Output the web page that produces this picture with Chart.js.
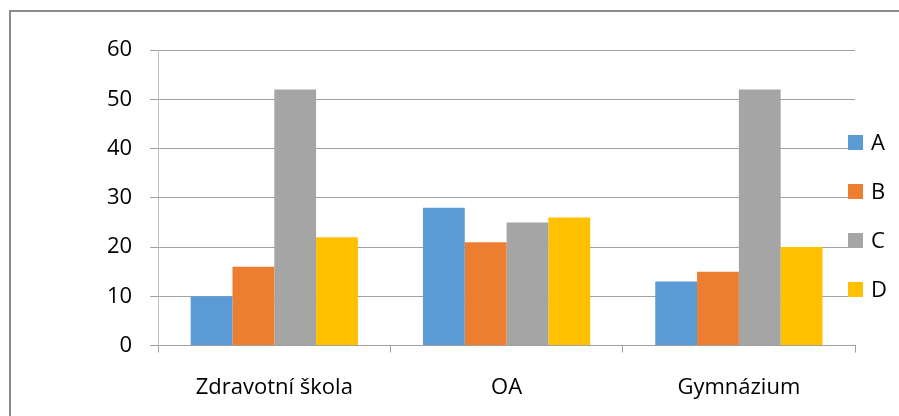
<!DOCTYPE html>
<html>
<head>
<meta charset="utf-8">
<script src="https://cdn.jsdelivr.net/npm/chart.js@4"></script>
<style>
  html, body { margin: 0; padding: 0; background: #fff; overflow: hidden; }
  #frame {
    position: absolute; left: 9px; top: 10px;
    width: 900px; height: 420px;
    border: 2px solid #8c8c8c;
    box-sizing: border-box;
  }
  #wrap { position: absolute; left: 0; top: 0; width: 899px; height: 424px; }
</style>
</head>
<body>
<div id="frame"></div>
<div id="wrap"><canvas id="schools"></canvas></div>
<script>
"use strict";

const schools = ['Zdravotní škola', 'OA', 'Gymnázium'];
const series_names = ['A', 'B', 'C', 'D'];
const series_a = [10, 28, 13];
const series_b = [16, 21, 15];
const series_c = [52, 25, 52];
const series_d = [22, 26, 20];
const y_ticks = [0, 10, 20, 30, 40, 50, 60];

const colors = ['#5b9bd5', '#ed7d31', '#a5a5a5', '#ffc000'];
const font_family = '"Open Sans", Lato, sans-serif';
const font_size = 22;

/* legend drawn on top of the right edge of the plot, like the office chart */
const side_legend = {
  id: 'side_legend',
  afterDraw(chart) {
    const c = chart.ctx;
    const area = chart.chartArea;
    const x = area.right - 7;
    const step = 49;
    const y0 = area.top + 93;
    c.save();
    c.font = font_size + 'px ' + font_family;
    c.textBaseline = 'middle';
    c.textAlign = 'left';
    chart.data.datasets.forEach((ds, i) => {
      const y = y0 + i * step;
      c.fillStyle = ds.backgroundColor;
      c.fillRect(x, y - 8, 15, 15);
      c.fillStyle = '#000';
      c.fillText(ds.label, x + 23, y + 1);
    });
    c.restore();
  }
};

const ctx = document.getElementById('schools');

let chart = new Chart(ctx, {
  type: 'bar',
  data: {
    labels: schools,
    datasets: [series_a, series_b, series_c, series_d].map((values, i) => ({
      label: series_names[i],
      data: values,
      backgroundColor: colors[i],
      borderWidth: 0,
      categoryPercentage: 0.72,
      barPercentage: 1.0
    }))
  },
  options: {
    responsive: true,
    maintainAspectRatio: false,
    animation: false,
    layout: {
      padding: { left: 89, top: 50, right: 44, bottom: 1 }
    },
    plugins: {
      tooltip: { enabled: false },
      legend: { display: false }
    },
    scales: {
      x: {
        grid: {
          display: true,
          drawOnChartArea: false,
          color: '#a0a0a0',
          tickLength: 7
        },
        border: { color: '#a0a0a0' },
        ticks: {
          color: '#000',
          padding: 22,
          font: { family: font_family, size: font_size }
        }
      },
      y: {
        min: 0,
        max: 60,
        afterBuildTicks: (axis) => {
          axis.ticks = y_ticks.map(v => ({ value: v }));
        },
        grid: {
          color: '#a0a0a0',
          tickLength: 8
        },
        border: { color: '#c0c0c0' },
        ticks: {
          color: '#000',
          padding: 18,
          font: { family: font_family, size: font_size }
        }
      }
    }
  },
  plugins: [side_legend]
});
</script>
</body>
</html>
